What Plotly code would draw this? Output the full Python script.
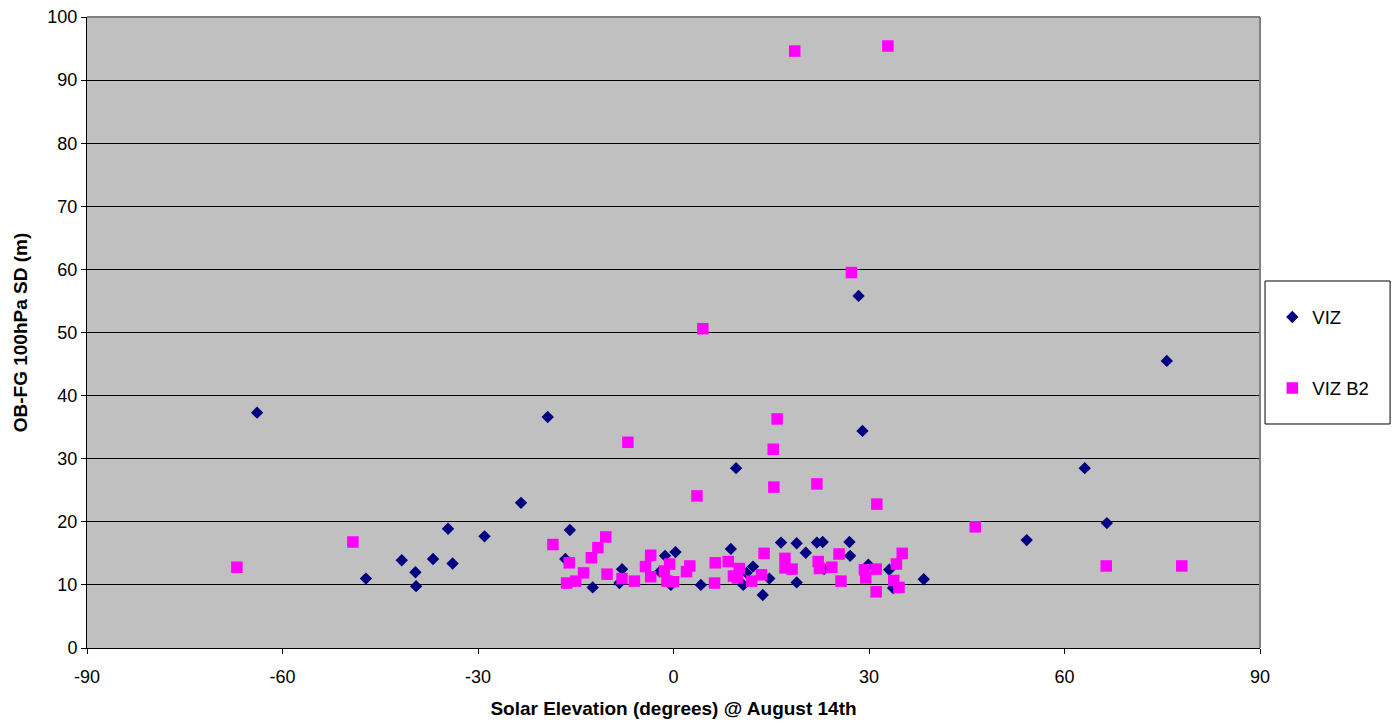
import plotly.graph_objects as go

# Solar elevation (degrees) and OB-FG 100hPa standard deviation (m)
viz_elev = [-63.9, -47.2, -41.7, -39.6, -39.5, -36.9, -34.6, -33.9, -29.0, -23.4,
            -19.3, -16.6, -15.9, -12.4, -7.9, -8.3, -2.1, -1.3, 0.3, -0.4,
            4.2, 8.8, 9.6, 10.7, 11.2, 12.2, 13.7, 14.7, 16.5, 18.9,
            18.9, 20.3, 22.0, 22.9, 23.1, 27.0, 27.1, 28.4, 29.0, 29.9,
            33.1, 33.7, 38.4, 54.2, 63.1, 66.5, 75.7]
viz_sd = [37.3, 11.0, 13.9, 12.0, 9.8, 14.1, 18.9, 13.4, 17.7, 23.0,
          36.6, 14.1, 18.7, 9.6, 12.5, 10.3, 12.1, 14.6, 15.2, 10.0,
          10.0, 15.7, 28.5, 10.0, 11.9, 12.9, 8.4, 11.0, 16.7, 16.6,
          10.4, 15.1, 16.7, 16.8, 12.5, 16.8, 14.6, 55.8, 34.4, 13.2,
          12.4, 9.5, 10.9, 17.1, 28.5, 19.8, 45.5]

vizb2_elev = [-67.0, -49.2, -18.5, -16.4, -16.0, -15.0, -13.8, -12.6, -11.6, -10.4,
              -10.2, -7.9, -7.0, -6.0, -4.3, -3.5, -3.5, -1.4, -1.0, -0.6,
              0.0, 2.0, 2.5, 3.6, 4.5, 6.3, 6.4, 8.4, 9.2, 9.8,
              10.1, 12.0, 13.5, 13.9, 15.3, 15.4, 15.9, 17.1, 17.1, 18.2,
              18.6, 22.0, 22.2, 22.4, 24.3, 25.4, 25.7, 27.3, 29.3, 29.5,
              31.1, 31.1, 31.2, 32.9, 33.8, 34.2, 34.6, 35.1, 46.3, 66.4,
              78.0]
vizb2_sd = [12.8, 16.8, 16.4, 10.3, 13.5, 10.6, 11.9, 14.3, 15.9, 17.6,
            11.7, 11.0, 32.6, 10.6, 12.9, 14.7, 11.3, 12.2, 10.6, 13.3,
            10.5, 12.1, 13.0, 24.1, 50.6, 10.3, 13.5, 13.7, 11.4, 11.1,
            12.6, 10.6, 11.6, 15.0, 31.5, 25.5, 36.3, 14.2, 12.7, 12.5,
            94.6, 26.0, 13.7, 12.6, 12.8, 14.9, 10.6, 59.5, 12.4, 11.1,
            12.5, 8.9, 22.8, 95.4, 10.7, 13.3, 9.6, 15.0, 19.2, 13.0,
            13.0]

x_ticks = [-90, -60, -30, 0, 30, 60, 90]
y_ticks = [0, 10, 20, 30, 40, 50, 60, 70, 80, 90, 100]

FONT = "Liberation Sans, Arial, sans-serif"

fig = go.Figure()
fig.add_trace(go.Scatter(
    x=viz_elev, y=viz_sd, mode="markers", name="VIZ", legendgroup="a",
    marker=dict(symbol="diamond", size=9.5, color="#000080", line=dict(width=0)),
))
fig.add_trace(go.Scatter(
    x=vizb2_elev, y=vizb2_sd, mode="markers", name="VIZ B2", legendgroup="b",
    marker=dict(symbol="square", size=11.5, color="#FF00FF", line=dict(width=0)),
))

fig.update_layout(
    width=1395, height=722,
    margin=dict(l=87, r=135, t=17, b=74, pad=0),
    paper_bgcolor="white",
    plot_bgcolor="#C0C0C0",
    font=dict(family=FONT, size=18, color="black"),
    showlegend=True,
    legend=dict(
        x=1.0105, xanchor="left", y=0.554, yanchor="top",
        bgcolor="rgba(0,0,0,0)", borderwidth=0,
        font=dict(family=FONT, size=18.5, color="black"),
        tracegroupgap=44, traceorder="grouped",
    ),
    shapes=[
        # legend frame
        dict(type="rect", xref="paper", yref="paper",
             x0=1.0043, x1=1.1109, y0=0.355, y1=0.5816,
             line=dict(color="black", width=1), fillcolor="white", layer="below"),
        # plot frame, top and right edges
        dict(type="line", xref="paper", yref="paper", x0=0, x1=1, y0=1, y1=1,
             line=dict(color="#808080", width=2), layer="above"),
        dict(type="line", xref="paper", yref="paper", x0=1, x1=1, y0=0, y1=1,
             line=dict(color="#808080", width=2), layer="above"),
    ],
)

fig.update_xaxes(
    range=[-90, 90], tickvals=x_ticks, ticktext=[str(v) for v in x_ticks],
    showgrid=False, zeroline=False, automargin=False,
    showline=True, linecolor="black", linewidth=1,
    ticks="outside", ticklen=5, tickcolor="black",
    ticklabelstandoff=7,
    tickfont=dict(family=FONT, size=18),
    title=dict(text="<b>Solar Elevation (degrees) @ August 14th</b>",
               font=dict(family=FONT, size=19), standoff=16),
)
fig.update_yaxes(
    range=[0, 100], tickvals=y_ticks, ticktext=[str(v) for v in y_ticks],
    showgrid=True, gridcolor="black", gridwidth=1,
    zeroline=False, automargin=False,
    showline=True, linecolor="black", linewidth=1,
    ticks="outside", ticklen=5, tickcolor="black",
    tickfont=dict(family=FONT, size=18),
    title=dict(text="<b>OB-FG 100hPa SD (m)</b>",
               font=dict(family=FONT, size=19), standoff=14),
)

fig.write_html("out.html")
